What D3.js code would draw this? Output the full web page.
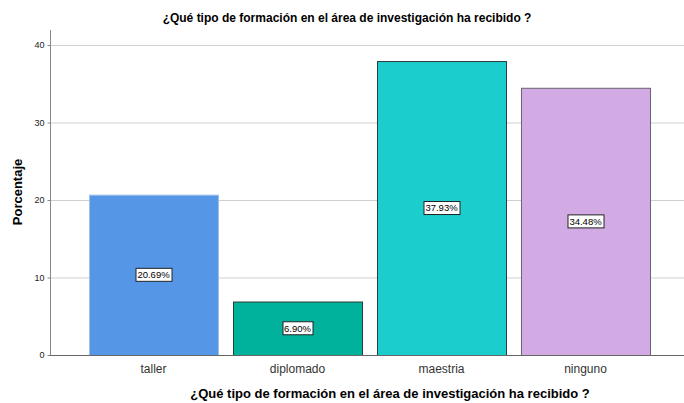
<!DOCTYPE html>
<html lang="es">
  <head>
    <meta charset="utf-8" />
    <title>Porcentaje por tipo de formación</title>
    <script src="https://cdn.jsdelivr.net/npm/d3@7"></script>
    <style>
      body { margin: 0; background: #fff; }
      text { font-family: "Liberation Sans", Arial, sans-serif; }
    </style>
  </head>
  <body>
    <div id="chart"></div>
    <script>
      const categories = ["taller", "diplomado", "maestria", "ninguno"];
      const values = [20.69, 6.9, 37.93, 34.48];
      const yTicks = [0, 10, 20, 30, 40];
      const fills = ["#5596e6", "#00b19c", "#1ccdcd", "#d2aae4"];
      const strokes = ["#9fbfeb", "#2b3b38", "#2d3c3c", "#6a6470"];

      const w = 684, h = 403;
      const svg = d3.select("#chart").append("svg")
        .attr("width", w).attr("height", h);

      const x = d3.scaleBand()
        .domain(categories)
        .range([81.5, 657.5])
        .paddingInner(0.104)
        .paddingOuter(0.052);

      const y = d3.scaleLinear().domain([0, 40]).range([355, 45]);

      // gridlines
      svg.append("g").selectAll("line")
        .data(yTicks.filter(d => d > 0))
        .join("line")
        .attr("x1", 50).attr("x2", w)
        .attr("y1", d => y(d) + 0.5).attr("y2", d => y(d) + 0.5)
        .attr("stroke", "#d0d0d0");

      // y axis
      const yAxis = svg.append("g")
        .attr("transform", "translate(50.5,0)")
        .call(d3.axisLeft(y).tickValues(yTicks).tickSize(3).tickFormat(d3.format("d")));
      yAxis.select(".domain").remove();
      yAxis.selectAll(".tick line").attr("stroke", "#888");
      yAxis.selectAll(".tick text")
        .attr("font-size", 9).attr("fill", "#222")
        .attr("font-family", "Liberation Sans, Arial, sans-serif");
      svg.append("line")
        .attr("x1", 50.5).attr("x2", 50.5)
        .attr("y1", 30).attr("y2", 355)
        .attr("stroke", "#888");

      // bars
      svg.append("g").selectAll("rect")
        .data(values)
        .join("rect")
        .attr("x", (d, i) => x(categories[i]) + 0.5)
        .attr("y", d => y(d) + 0.5)
        .attr("width", x.bandwidth())
        .attr("height", d => y(0) - y(d))
        .attr("fill", (d, i) => fills[i])
        .attr("stroke", (d, i) => strokes[i])
        .attr("stroke-width", 1);

      // x baseline
      svg.append("line")
        .attr("x1", 50).attr("x2", w)
        .attr("y1", 355.5).attr("y2", 355.5)
        .attr("stroke", "#666");

      // value labels
      const labels = svg.append("g").selectAll("g")
        .data(values)
        .join("g")
        .attr("transform", (d, i) =>
          `translate(${x(categories[i]) + x.bandwidth() / 2},${y(d / 2)})`);
      labels.append("text")
        .attr("text-anchor", "middle")
        .attr("dy", "0.35em")
        .attr("font-size", 9.5)
        .attr("fill", "#000")
        .text(d => d.toFixed(2) + "%");
      labels.each(function () {
        const g = d3.select(this);
        const bb = g.select("text").node().getBBox();
        g.insert("rect", "text")
          .attr("x", Math.round(bb.x) - 1.5)
          .attr("y", Math.round(bb.y) - 0.5)
          .attr("width", Math.round(bb.width) + 3)
          .attr("height", Math.round(bb.height) + 2)
          .attr("fill", "#fff")
          .attr("stroke", "#222");
      });

      // category labels
      svg.append("g").selectAll("text")
        .data(categories)
        .join("text")
        .attr("x", d => x(d) + x.bandwidth() / 2)
        .attr("y", 373)
        .attr("text-anchor", "middle")
        .attr("font-size", 12)
        .attr("fill", "#333")
        .text(d => d);

      // titles
      svg.append("text")
        .attr("x", 347).attr("y", 22)
        .attr("text-anchor", "middle")
        .attr("font-size", 12).attr("font-weight", "bold")
        .text("¿Qué tipo de formación en el área de investigación ha recibido ?");

      svg.append("text")
        .attr("x", 390).attr("y", 398)
        .attr("text-anchor", "middle")
        .attr("font-size", 13).attr("font-weight", "bold")
        .text("¿Qué tipo de formación en el área de investigación ha recibido ?");

      svg.append("text")
        .attr("transform", "translate(22,192) rotate(-90)")
        .attr("text-anchor", "middle")
        .attr("font-size", 13).attr("font-weight", "bold")
        .text("Porcentaje");
    </script>
  </body>
</html>
